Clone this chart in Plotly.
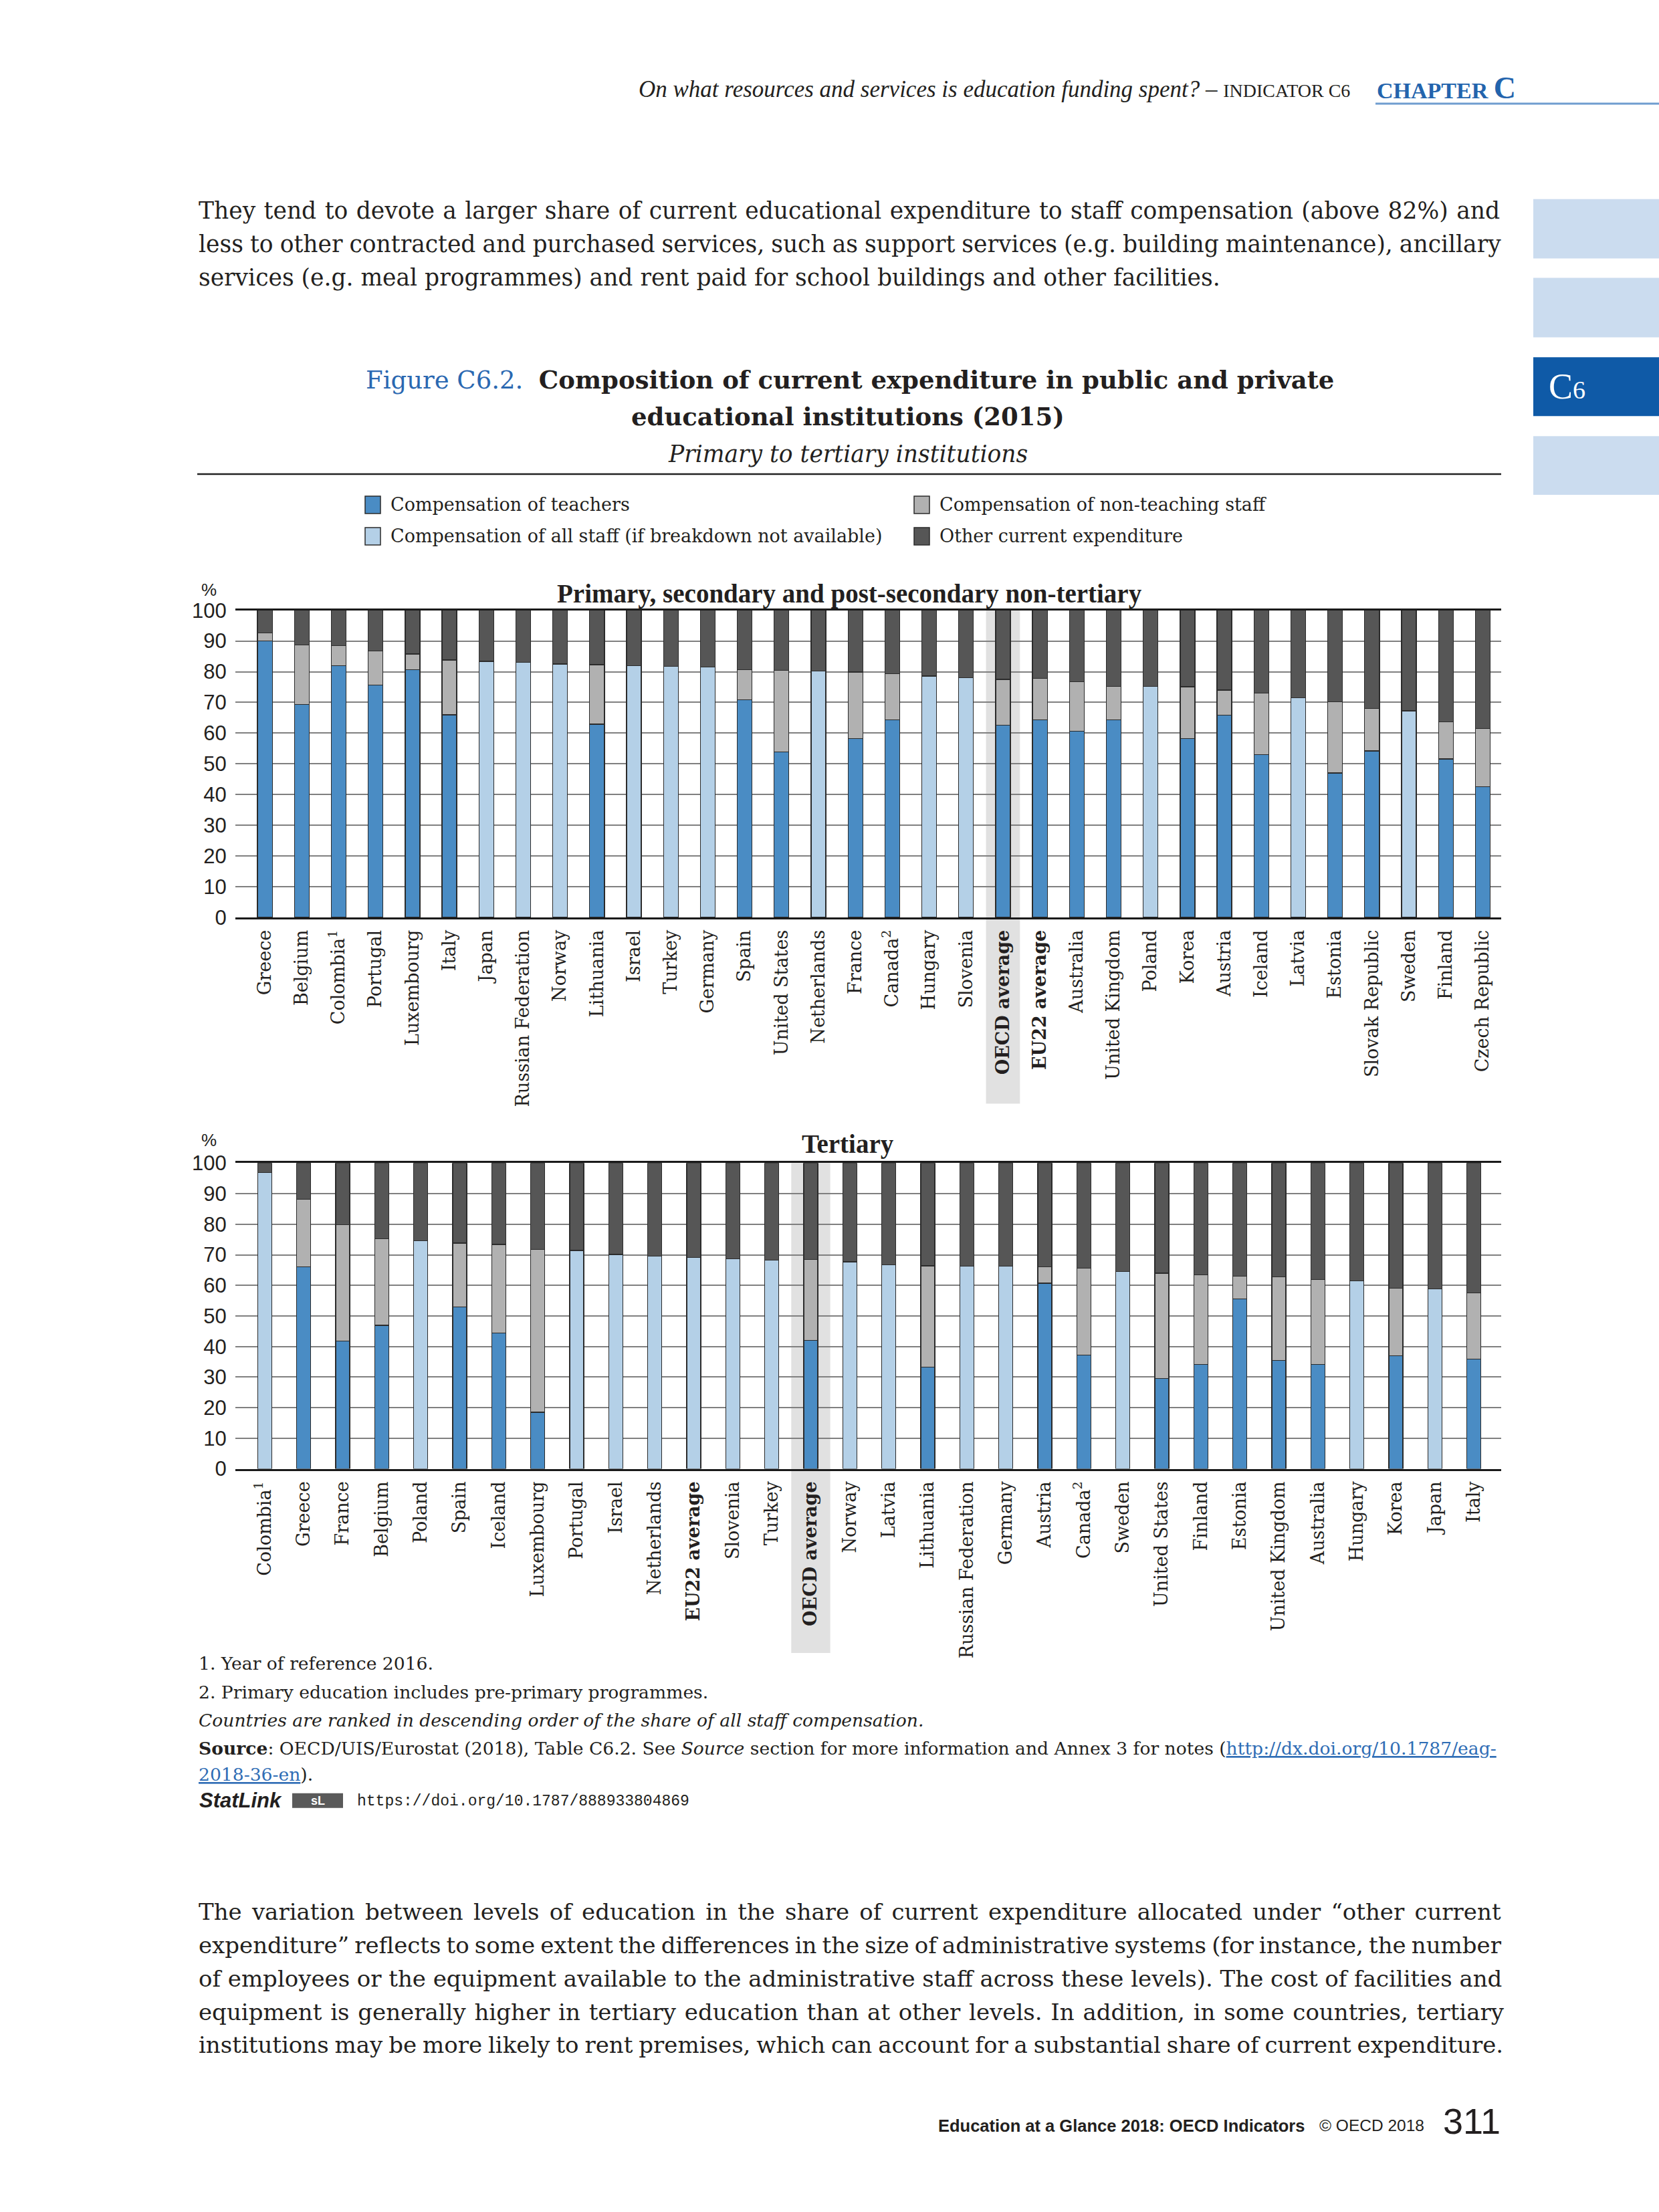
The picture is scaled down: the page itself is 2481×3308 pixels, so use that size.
import plotly.graph_objects as go

W, H = 2481, 3308


def Y(y):
    # small vertical calibration of positions measured on the reference page
    return 1.009 * y - 13.9


def px(x):
    return x / W


def py(y):
    return 1 - Y(y) / H


# ---------------- DATA ----------------
top_categories = ["Greece", "Belgium", "Colombia", "Portugal", "Luxembourg", "Italy", "Japan",
                  "Russian Federation", "Norway", "Lithuania", "Israel", "Turkey", "Germany", "Spain",
                  "United States", "Netherlands", "France", "Canada", "Hungary", "Slovenia",
                  "OECD average", "EU22 average", "Australia", "United Kingdom", "Poland", "Korea",
                  "Austria", "Iceland", "Latvia", "Estonia", "Slovak Republic", "Sweden", "Finland",
                  "Czech Republic"]
top_labels = ["Greece", "Belgium", "Colombia<sup>1</sup>", "Portugal", "Luxembourg", "Italy", "Japan",
              "Russian Federation", "Norway", "Lithuania", "Israel", "Turkey", "Germany", "Spain",
              "United States", "Netherlands", "France", "Canada<sup>2</sup>", "Hungary", "Slovenia",
              "<b>OECD average</b>", "<b>EU22 average</b>", "Australia", "United Kingdom", "Poland", "Korea",
              "Austria", "Iceland", "Latvia", "Estonia", "Slovak Republic", "Sweden", "Finland",
              "Czech Republic"]
top_teachers = [90.0, 69.3, 82.0, 75.7, 80.7, 66.0, None, None, None, 62.9, None, None, None, 70.9,
                53.9, None, 58.2, 64.3, None, None, 62.6, 64.3, 60.6, 64.3, None, 58.3,
                65.9, 53.0, None, 47.0, 54.2, None, 51.6, 42.6]
top_all_staff = [None, None, None, None, None, None, 83.4, 83.1, 82.5, None, 82.0, 81.8, 81.6, None,
                 None, 80.3, None, None, 78.6, 78.1, None, None, None, None, 75.2, None,
                 None, None, 71.5, None, None, 67.3, None, None]
top_non_teaching = [2.7, 19.5, 6.5, 11.1, 5.1, 17.8, None, None, None, 19.4, None, None, None, 9.8,
                    26.6, None, 21.7, 15.1, None, None, 14.9, 13.5, 16.2, 11.0, None, 16.8,
                    8.1, 20.0, None, 23.2, 13.9, None, 12.1, 18.9]
top_other = [7.3, 11.2, 11.5, 13.2, 14.2, 16.2, 16.6, 16.9, 17.5, 17.7, 18.0, 18.2, 18.4, 19.3,
             19.5, 19.7, 20.1, 20.6, 21.4, 21.9, 22.5, 22.2, 23.2, 24.7, 24.8, 24.9,
             26.0, 27.0, 28.5, 29.8, 31.9, 32.7, 36.3, 38.5]

bot_categories = ["Colombia", "Greece", "France", "Belgium", "Poland", "Spain", "Iceland", "Luxembourg",
                  "Portugal", "Israel", "Netherlands", "EU22 average", "Slovenia", "Turkey", "OECD average",
                  "Norway", "Latvia", "Lithuania", "Russian Federation", "Germany", "Austria", "Canada",
                  "Sweden", "United States", "Finland", "Estonia", "United Kingdom", "Australia",
                  "Hungary", "Korea", "Japan", "Italy"]
bot_labels = ["Colombia<sup>1</sup>", "Greece", "France", "Belgium", "Poland", "Spain", "Iceland", "Luxembourg",
              "Portugal", "Israel", "Netherlands", "<b>EU22 average</b>", "Slovenia", "Turkey",
              "<b>OECD average</b>", "Norway", "Latvia", "Lithuania", "Russian Federation", "Germany",
              "Austria", "Canada<sup>2</sup>", "Sweden", "United States", "Finland", "Estonia",
              "United Kingdom", "Australia", "Hungary", "Korea", "Japan", "Italy"]
bot_teachers = [None, 66.1, 41.8, 46.9, None, 53.0, 44.4, 18.5, None, None, None, None, None, None, 42.0,
                None, None, 33.3, None, None, 60.7, 37.2, None, 29.6, 34.2, 55.6, 35.4, 34.1,
                None, 37.0, None, 35.9]
bot_all_staff = [96.9, None, None, None, 74.6, None, None, None, 71.4, 70.1, 69.6, 69.2, 68.7, 68.2, None,
                 67.7, 66.7, None, 66.3, 66.3, None, None, 64.6, None, None, None, None, None,
                 61.5, None, 58.9, None]
bot_non_teaching = [None, 22.1, 38.0, 28.4, None, 20.8, 29.0, 53.2, None, None, None, None, None, None, 26.4,
                    None, None, 33.1, None, None, 5.4, 28.4, None, 34.4, 29.2, 7.4, 27.4, 27.8,
                    None, 22.1, None, 21.6]
bot_other = [3.1, 11.8, 20.2, 24.7, 25.4, 26.2, 26.6, 28.3, 28.6, 29.9, 30.4, 30.8, 31.3, 31.8, 31.6,
             32.3, 33.3, 33.6, 33.7, 33.7, 33.9, 34.4, 35.4, 36.0, 36.6, 37.0, 37.2, 38.1,
             38.5, 40.9, 41.1, 42.5]

series_names = ["Compensation of teachers", "Compensation of all staff (if breakdown not available)",
                "Compensation of non-teaching staff", "Other current expenditure"]
y_ticks = [0, 10, 20, 30, 40, 50, 60, 70, 80, 90, 100]

# ---------------- STYLE ----------------
C_TEACH = "#4a8cc4"
C_ALL = "#b4d0e7"
C_NON = "#b1b1b1"
C_OTHER = "#565656"
colors = [C_TEACH, C_ALL, C_NON, C_OTHER]
BLUE = "#2364ad"
SERIF = "Liberation Serif, DejaVu Serif, serif"
WIDE_SERIF = "DejaVu Serif, Liberation Serif, serif"
NARROW = "Liberation Sans Narrow, Arial Narrow, Liberation Sans, sans-serif"
SANS = "Liberation Sans, Arial, sans-serif"
TXT = "#231f20"

fig = go.Figure()

top_series = [top_teachers, top_all_staff, top_non_teaching, top_other]
bot_series = [bot_teachers, bot_all_staff, bot_non_teaching, bot_other]

for name, vals, col in zip(series_names, top_series, colors):
    fig.add_trace(go.Bar(x=top_categories, y=vals, name=name,
                         marker=dict(color=col, line=dict(color="#2b2b2b", width=1.3)),
                         width=0.4, xaxis="x", yaxis="y", showlegend=False))
for name, vals, col in zip(series_names, bot_series, colors):
    fig.add_trace(go.Bar(x=bot_categories, y=vals, name=name,
                         marker=dict(color=col, line=dict(color="#2b2b2b", width=1.3)),
                         width=0.36, xaxis="x2", yaxis="y2", showlegend=False))

XDOM = [px(352), px(2245)]

axis_common_x = dict(type="category", showline=True, mirror=True, linecolor="#1a1a1a", linewidth=3,
                     showgrid=False, tickangle=-90, ticks="outside", ticklen=5, tickcolor="rgba(0,0,0,0)",
                     tickfont=dict(family=WIDE_SERIF, size=27, color=TXT), fixedrange=True)
axis_common_y = dict(range=[0, 100], tickvals=y_ticks, showgrid=True, gridcolor="#808080", gridwidth=2,
                     zeroline=False, showline=False, ticks="outside", ticklen=6, tickcolor="rgba(0,0,0,0)",
                     tickfont=dict(family=NARROW, size=31, color=TXT), fixedrange=True)

fig.update_layout(
    width=W, height=H, autosize=False,
    margin=dict(l=0, r=0, t=0, b=0),
    paper_bgcolor="white", plot_bgcolor="rgba(0,0,0,0)",
    barmode="stack",
    xaxis=dict(axis_common_x, domain=XDOM, anchor="y", range=[-0.8, 33.5],
               tickvals=top_categories, ticktext=top_labels),
    yaxis=dict(axis_common_y, domain=[py(1371), py(911)], anchor="x"),
    xaxis2=dict(axis_common_x, domain=XDOM, anchor="y2", range=[-0.75, 31.7],
                tickvals=bot_categories, ticktext=bot_labels),
    yaxis2=dict(axis_common_y, domain=[py(2197), py(1739)], anchor="x2"),
)

shapes = []
annotations = []

# OECD average highlight bands
oecd_top = top_categories.index("OECD average")
oecd_bot = bot_categories.index("OECD average")
shapes.append(dict(type="rect", xref="x", yref="paper", x0=oecd_top - 0.46, x1=oecd_top + 0.46,
                   y0=py(1650), y1=py(911), fillcolor="#e1e1e1", line=dict(width=0), layer="below"))
shapes.append(dict(type="rect", xref="x2", yref="paper", x0=oecd_bot - 0.5, x1=oecd_bot + 0.5,
                   y0=py(2473), y1=py(1739), fillcolor="#e1e1e1", line=dict(width=0), layer="below"))


def text(x, y, s, size, family=SERIF, color=TXT, xanchor="left", yanchor="middle"):
    annotations.append(dict(x=px(x), y=py(y), xref="paper", yref="paper", text=s, showarrow=False,
                            xanchor=xanchor, yanchor=yanchor, align="left",
                            font=dict(family=family, size=size, color=color)))


def rect(x0, y0, x1, y1, fill, line_color=None, lw=0):
    shapes.append(dict(type="rect", xref="paper", yref="paper", x0=px(x0), x1=px(x1), y0=py(y1), y1=py(y0),
                       fillcolor=fill, line=dict(color=line_color or fill, width=lw), layer="above"))


def justified(s, spacing):
    return "<span style='word-spacing:%.1fpx'>%s</span>" % (spacing, s)


# Header
text(2021, 130, "<i>On what resources and services is education funding spent?</i> – <span style='font-size:28px'>INDICATOR C6</span>",
     35, xanchor="right")
text(2057, 128, "<b>CHAPTER <span style='font-size:46px'>C</span></b>", 34, color=BLUE)
shapes.append(dict(type="line", xref="paper", yref="paper", x0=px(2057), x1=1, y0=py(152), y1=py(152),
                   line=dict(color="#6f9dcf", width=3)))

# Right side tabs
rect(2293, 295, 2481, 384, "#cbdcef")
rect(2293, 413, 2481, 502, "#cbdcef")
rect(2293, 532, 2481, 620, "#0f5aa7")
rect(2293, 650, 2481, 738, "#cbdcef")
text(2343, 576, "C<span style='font-size:38px'>6</span>", 54, family=SERIF, color="white", xanchor="center")

# Paragraph 1 (justified lines approximated via word spacing)
para1 = ["They tend to devote a larger share of current educational expenditure to staff compensation (above 82%) and",
         "less to other contracted and purchased services, such as support services (e.g. building maintenance), ancillary",
         "services (e.g. meal programmes) and rent paid for school buildings and other facilities."]
para1_spacing = [1.5, -0.9, 0.0]
for i, (line, sp) in enumerate(zip(para1, para1_spacing)):
    text(295, 312 + i * 50, justified(line, sp), 34.5, family=WIDE_SERIF)

# Figure title
text(545, 566, "<span style='color:#2a68b1'>Figure C6.2.</span>  <b>Composition of current expenditure in public and private</b>",
     37, family=WIDE_SERIF)
text(1268, 621, "<b>educational institutions (2015)</b>", 37, family=WIDE_SERIF, xanchor="center")
text(1268, 677, "<i>Primary to tertiary institutions</i>", 34.5, family=WIDE_SERIF, xanchor="center")
shapes.append(dict(type="line", xref="paper", yref="paper", x0=px(295), x1=px(2245), y0=py(707), y1=py(707),
                   line=dict(color="#222", width=2.5)))

# Legend
legend_pos = [(546, 753), (546, 800), (1367, 753), (1367, 800)]
for (lx, ly), idx in zip(legend_pos, [0, 1, 2, 3]):
    rect(lx, ly - 13, lx + 23, ly + 13, colors[idx], "#2b2b2b", 1.5)
    text(lx + 36, ly, series_names[idx], 27, family=WIDE_SERIF)

# Chart titles & % labels
text(312, 880, "%", 26, family=NARROW, xanchor="center")
text(1270, 886, "<b>Primary, secondary and post-secondary non-tertiary</b>", 39, xanchor="center")
text(312, 1705, "%", 26, family=NARROW, xanchor="center")
text(1268, 1711, "<b>Tertiary</b>", 39, xanchor="center")

# Footnotes
LINK = "#2f6db5"
FN = 26.6
text(295, 2488, "1. Year of reference 2016.", FN, family=WIDE_SERIF)
text(295, 2531, "2. Primary education includes pre-primary programmes.", FN, family=WIDE_SERIF)
text(295, 2574, "<i>Countries are ranked in descending order of the share of all staff compensation.</i>", FN, family=WIDE_SERIF)
text(295, 2616, "<b>Source</b>: OECD/UIS/Eurostat (2018), Table C6.2. See <i>Source</i> section for more information and Annex 3 for notes (<span style='color:%s'><u>http://dx.doi.org/10.1787/eag-</u></span>" % LINK,
     FN, family=WIDE_SERIF)
text(295, 2655, "<span style='color:%s'><u>2018-36-en</u></span>)." % LINK, FN, family=WIDE_SERIF)
text(296, 2694, "<b><i>StatLink</i></b>", 31, family=SANS)
rect(437, 2683, 513, 2705, "#5a5a5a")
text(475, 2694, "<b>sL</b>", 18, family=SANS, color="white", xanchor="center")
text(532, 2695, "https://doi.org/10.1787/888933804869", 23, family="Liberation Mono, DejaVu Sans Mono, monospace")

# Paragraph 2 (justified lines approximated via word spacing)
para2 = ["The variation between levels of education in the share of current expenditure allocated under “other current",
         "expenditure” reflects to some extent the differences in the size of administrative systems (for instance, the number",
         "of employees or the equipment available to the administrative staff across these levels). The cost of facilities and",
         "equipment is generally higher in tertiary education than at other levels. In addition, in some countries, tertiary",
         "institutions may be more likely to rent premises, which can account for a substantial share of current expenditure."]
para2_spacing = [4.4, -2.7, -0.1, 2.0, -1.9]
for i, (line, sp) in enumerate(zip(para2, para2_spacing)):
    text(295, 2861 + i * 49.8, justified(line, sp), 34, family=WIDE_SERIF)

# Footer
text(1401, 3181, "<b>Education at a Glance 2018: OECD Indicators</b>", 25.5, family=SANS)
text(1971, 3181, "© OECD 2018", 24.5, family=SANS)
text(2156, 3174, "311", 54, family=SANS)

fig.update_layout(shapes=shapes, annotations=annotations)

fig.write_html("out.html", config={"displayModeBar": False},
               post_script="document.body.style.margin='0px';document.body.style.padding='0px';"
                           "document.documentElement.style.overflow='hidden';")
